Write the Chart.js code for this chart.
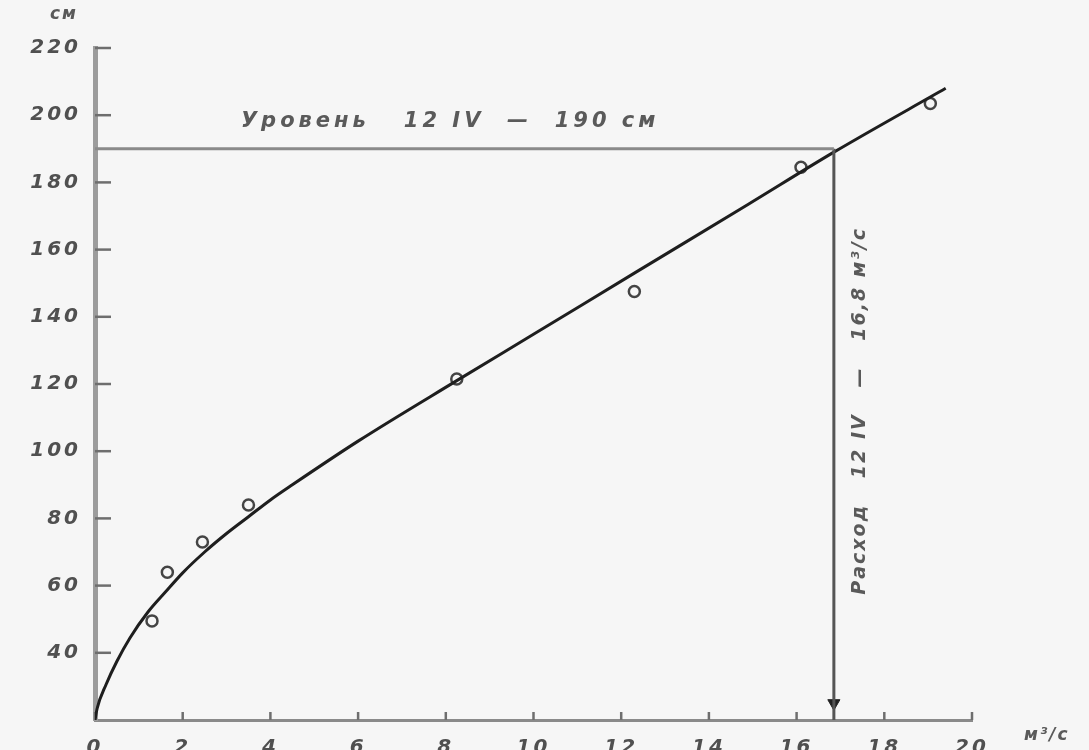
<html>
   <head>
      <script src="https://cdn.jsdelivr.net/npm/chart.js@4.4.0/dist/chart.umd.min.js"></script>
   </head>
   <style>
      html,
      body {
         height: 100%;
         margin: 0;
         background: #f6f6f6;
      }

      .graph {
         width: 1089px;
         height: 750px;
      }
   </style>

   <body>
      <div class="graph">
         <canvas id="myChart"></canvas>
      </div>
   </body>
   <script>
      // measured points (discharge, m3/s ; stage, cm)
      const measQ = [1.3, 1.65, 2.45, 3.5, 8.25, 12.3, 16.1, 19.05];
      const measH = [49.5, 64, 73, 84, 121.5, 147.5, 184.5, 203.5];

      // rating curve
      const curveQ = [0, 0.05, 0.25, 0.5, 0.8, 1.2, 1.6, 2.0, 2.5, 3.0, 3.5, 4.0, 4.5, 6, 8.25, 10, 12.3, 14.9, 16.85, 19.4];
      const curveH = [20, 23.5, 30.5, 37.5, 44.5, 52, 58, 63.8, 70, 75.5, 80.5, 85.5, 90, 103, 121, 134.8, 153, 173.5, 189, 208];

      // 12 IV reading
      const levelQ = [0, 16.85];
      const levelH = [190, 190];
      const flowQ = [16.85, 16.85];
      const flowH = [190, 20];
      const arrowQ = [16.85];
      const arrowH = [25];

      const xTicks = [0, 2, 4, 6, 8, 10, 12, 14, 16, 18, 20];
      const yTicks = [40, 60, 80, 100, 120, 140, 160, 180, 200, 220];

      const levelText = "Уровень   12 IV  —  190 см";
      const flowText = "Расход   12 IV   —   16,8 м³/с";

      const pts = (xs, ys) => xs.map((x, i) => ({ x: x, y: ys[i] }));

      const labelFont = { family: "'DejaVu Sans', sans-serif", size: 20, style: "italic", weight: "bold" };

      const extras = {
         id: "extras",
         beforeDraw(chart) {
            chart.ctx.letterSpacing = "3px";
         },
         beforeDatasetsDraw(chart) {
            const ctx = chart.ctx;
            const xs = chart.scales.x;
            const ys = chart.scales.y;
            ctx.save();
            ctx.strokeStyle = "#6e6e6e";
            ctx.lineWidth = 2.5;
            // inside tick marks
            yTicks.forEach((v) => {
               const py = ys.getPixelForValue(v);
               ctx.beginPath();
               ctx.moveTo(xs.left, py);
               ctx.lineTo(xs.left + 16, py);
               ctx.stroke();
            });
            xTicks.forEach((v) => {
               const px = xs.getPixelForValue(v);
               ctx.beginPath();
               ctx.moveTo(px, ys.bottom);
               ctx.lineTo(px, ys.bottom - 8);
               ctx.stroke();
            });
            ctx.restore();
         },
         afterDatasetsDraw(chart) {
            const ctx = chart.ctx;
            const xs = chart.scales.x;
            const ys = chart.scales.y;
            ctx.save();
            ctx.fillStyle = "#5a5a5a";
            ctx.textAlign = "center";
            ctx.textBaseline = "middle";
            ctx.letterSpacing = "4px";
            ctx.font = "italic bold 21px 'DejaVu Sans', sans-serif";
            ctx.fillText(levelText, xs.getPixelForValue(8.1), ys.getPixelForValue(198));

            ctx.save();
            ctx.letterSpacing = "2px";
            ctx.font = "italic bold 19px 'DejaVu Sans', sans-serif";
            ctx.translate(xs.getPixelForValue(17.45), ys.getPixelForValue(112));
            ctx.rotate(-Math.PI / 2);
            ctx.fillText(flowText, 0, 0);
            ctx.restore();

            // axis units
            ctx.letterSpacing = "2px";
            ctx.font = "italic bold 17px 'DejaVu Sans', sans-serif";
            ctx.fillText("см", 64, ys.getPixelForValue(220) - 33);
            ctx.textAlign = "left";
            ctx.fillText("м³/с", xs.right + 52, ys.bottom + 16);
            ctx.restore();
         },
      };

      const config = {
         type: "scatter",
         data: {
            datasets: [
               {
                  label: "level",
                  data: pts(levelQ, levelH),
                  showLine: true,
                  borderColor: "#8a8a8a",
                  borderWidth: 3,
                  pointRadius: 0,
               },
               {
                  label: "flow",
                  data: pts(flowQ, flowH),
                  showLine: true,
                  borderColor: "#555",
                  borderWidth: 3,
                  pointRadius: 0,
               },
               {
                  label: "arrow",
                  data: pts(arrowQ, arrowH),
                  pointStyle: "triangle",
                  rotation: 180,
                  pointRadius: 7,
                  backgroundColor: "#222",
                  borderColor: "#222",
               },
               {
                  label: "curve",
                  data: pts(curveQ, curveH),
                  showLine: true,
                  borderColor: "#1e1e1e",
                  borderWidth: 3,
                  pointRadius: 0,
                  cubicInterpolationMode: "monotone",
               },
               {
                  label: "measured",
                  data: pts(measQ, measH),
                  pointStyle: "circle",
                  pointRadius: 5.5,
                  borderWidth: 2.5,
                  borderColor: "#444",
                  backgroundColor: "#f6f6f6",
               },
            ],
         },
         options: {
            responsive: true,
            maintainAspectRatio: false,
            animation: false,
            layout: { padding: { top: 48, right: 117, left: 0, bottom: 0 } },
            plugins: {
               legend: { display: false },
               tooltip: { enabled: false },
            },
            scales: {
               x: {
                  type: "linear",
                  min: 0,
                  max: 20,
                  afterFit: (scale) => {
                     scale.height = 30;
                  },
                  afterBuildTicks: (scale) => {
                     scale.ticks = xTicks.map((v) => ({ value: v }));
                  },
                  border: { color: "#8a8a8a", width: 3 },
                  grid: { display: false },
                  ticks: { color: "#505050", font: labelFont, padding: 8, maxRotation: 0 },
               },
               y: {
                  type: "linear",
                  min: 20,
                  max: 220,
                  afterFit: (scale) => {
                     scale.width = 95;
                  },
                  afterBuildTicks: (scale) => {
                     scale.ticks = yTicks.map((v) => ({ value: v }));
                  },
                  border: { color: "#9c9c9c", width: 5 },
                  grid: { display: false },
                  ticks: { color: "#505050", font: labelFont, padding: 6 },
               },
            },
         },
         plugins: [extras],
      };

      let myChart = new Chart(document.getElementById("myChart"), config);
   </script>
</html>
